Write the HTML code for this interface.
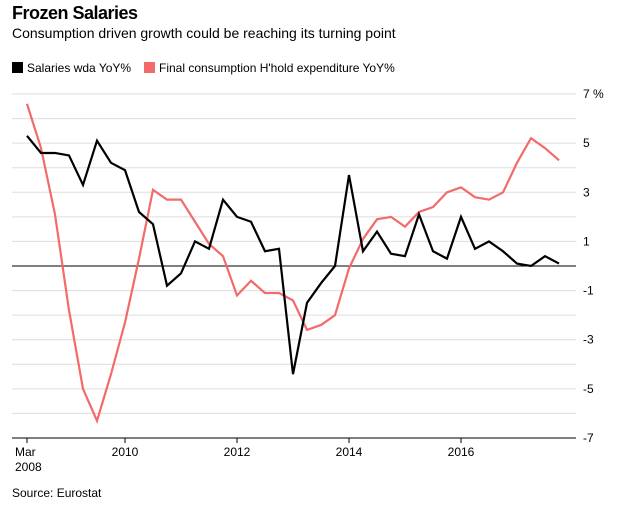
<!DOCTYPE html>
<html><head><meta charset="utf-8"><style>
body{margin:0;background:#fff;font-family:"Liberation Sans",Arial,sans-serif;}
#wrap{position:relative;width:622px;height:517px;overflow:hidden;}
.t{position:absolute;white-space:nowrap;color:#000;}
</style></head><body>
<div id="wrap">
<div class="t" style="left:12px;top:3px;font-size:18px;font-weight:bold;letter-spacing:-0.5px">Frozen Salaries</div>
<div class="t" style="left:12px;top:25px;font-size:14px">Consumption driven growth could be reaching its turning point</div>
<div class="t" style="left:12px;top:61px;font-size:12px"><span style="display:inline-block;width:11px;height:11px;background:#000;vertical-align:-1px;margin-right:4px"></span>Salaries wda YoY%</div>
<div class="t" style="left:144px;top:61px;font-size:12px"><span style="display:inline-block;width:11px;height:11px;background:#f26a6a;vertical-align:-1px;margin-right:4px"></span>Final consumption H'hold expenditure YoY%</div>
<svg id="svg" width="622" height="517" style="position:absolute;left:0;top:0"></svg>
<div class="t" style="left:12px;top:486px;font-size:12px">Source: Eurostat</div>
</div>
<script>
const salaries=[5.3,4.6,4.6,4.5,3.3,5.1,4.2,3.9,2.2,1.7,-0.8,-0.3,1.0,0.7,2.7,2.0,1.8,0.6,0.7,-4.4,-1.5,-0.7,0.0,3.7,0.6,1.4,0.5,0.4,2.1,0.6,0.3,2.0,0.7,1.0,0.6,0.1,0.0,0.4,0.1];
const consumption=[6.6,4.8,2.1,-1.8,-5.0,-6.3,-4.4,-2.3,0.3,3.1,2.7,2.7,1.8,0.9,0.4,-1.2,-0.6,-1.1,-1.1,-1.4,-2.6,-2.4,-2.0,-0.1,1.1,1.9,2.0,1.6,2.2,2.4,3.0,3.2,2.8,2.7,3.0,4.2,5.2,4.8,4.3];
const yTicks=[7,6,5,4,3,2,1,0,-1,-2,-3,-4,-5,-6,-7];
const yLabels=["7 %","5","3","1","-1","-3","-5","-7"];
const xTickIdx=[0,7,15,23,31];
const xTickLabels=["Mar","2010","2012","2014","2016"];
const NS="http://www.w3.org/2000/svg";
const svg=document.getElementById('svg');
const y=v=>266-v*24.57;
const x=i=>27+i*14;
function mk(t,a){const e=document.createElementNS(NS,t);for(const k in a)e.setAttribute(k,a[k]);svg.appendChild(e);return e;}
yTicks.forEach(v=>{
 const l=mk('line',{x1:12,x2:v===0?576:576,y1:y(v),y2:y(v),stroke:v===0?'#000':'#ddd','stroke-width':1});
 
 
});
yLabels.forEach((s,k)=>{
 const v=7-2*k;
 const t=mk('text',{x:583,y:y(v)+4,'font-size':12,'font-family':'Liberation Sans, sans-serif'});
 t.textContent=s;
 
 
});
const ax=mk('line',{x1:12,x2:576,y1:438,y2:438,stroke:'#000','stroke-width':1});


xTickIdx.forEach((i,k)=>{
 const tk=mk('line',{x1:x(i),x2:x(i),y1:438,y2:443,stroke:'#000'});
 
 
 const t=mk('text',{x:k===0?x(i)-12:x(i),y:456,'font-size':12,'text-anchor':k===0?'start':'middle','font-family':'Liberation Sans, sans-serif'});
 t.textContent=xTickLabels[k];
 
 
});
const yr=mk('text',{x:15,y:471,'font-size':12,'font-family':'Liberation Sans, sans-serif'});
yr.textContent='2008';


function line(d,c,n){
 const p=mk('polyline',{points:d.map((v,i)=>x(i)+','+y(v)).join(' '),fill:'none',stroke:c,'stroke-width':2.2,'stroke-linejoin':'miter'});
 
 
}
line(consumption,'#f26a6a','consumption-line');
line(salaries,'#000','salaries-line');
</script>
</body></html>
